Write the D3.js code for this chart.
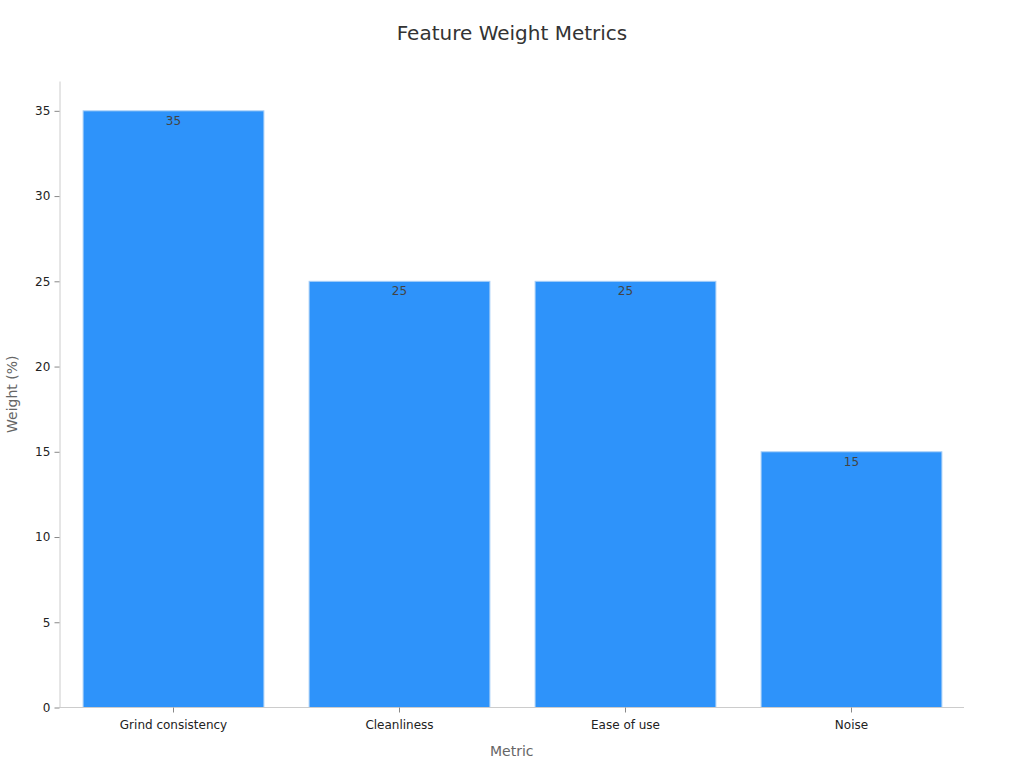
<!DOCTYPE html>
<html><head><meta charset="utf-8">
<script src="https://cdn.jsdelivr.net/npm/d3@7"></script>
<style>body{margin:0;background:#fff;font-family:"DejaVu Sans",sans-serif;}</style>
</head><body><svg id="c" width="1024" height="768"></svg>
<script>
const categories = ["Grind consistency","Cleanliness","Ease of use","Noise"];
const values = [35,25,25,15];
const yTicks = [0,5,10,15,20,25,30,35];

const svg = d3.select("#c");
const m = {l:59.5, r:60, t:81, b:60.5};
const W = 1024, H = 768;
const x = d3.scaleBand().domain(categories).range([m.l+1, W-m.r+0.5]).paddingInner(0.2).paddingOuter(0.1);
const y = d3.scaleLinear().domain([0, 36.75]).range([H-m.b, m.t]);

svg.append("text").attr("x",512).attr("y",40).attr("text-anchor","middle")
  .attr("font-size",20).attr("fill","#333").text("Feature Weight Metrics");

svg.selectAll("rect.bar").data(values).enter().append("rect")
  .attr("x",(d,i)=>x(categories[i])).attr("width",x.bandwidth())
  .attr("y",d=>y(d)).attr("height",d=>y(0)-y(d))
  .attr("fill","#2e93fa").attr("stroke","#a9cff7").attr("stroke-width",1);

svg.selectAll("text.lbl").data(values).enter().append("text")
  .attr("x",(d,i)=>x(categories[i])+x.bandwidth()/2).attr("y",d=>y(d)+14)
  .attr("text-anchor","middle").attr("font-size",12).attr("fill","#444").text(d=>d);

const xa = svg.append("g").attr("transform",`translate(0,${y(0)})`)
  .call(d3.axisBottom(x).tickSize(5).tickSizeOuter(0));
xa.select(".domain").attr("stroke","#ccc").attr("d",`M${m.l},0H${W-m.r}`);
xa.selectAll(".tick line").attr("stroke","#888");
xa.selectAll("text").attr("font-size",12).attr("fill","#222").attr("font-family","DejaVu Sans").attr("dy","1.1em");

const ya = svg.append("g").attr("transform",`translate(${m.l},0)`)
  .call(d3.axisLeft(y).tickValues(yTicks).tickSize(5).tickSizeOuter(0));
ya.select(".domain").attr("stroke","#ccc");
ya.selectAll(".tick line").attr("stroke","#888");
ya.selectAll("text").attr("font-size",12).attr("fill","#222").attr("font-family","DejaVu Sans").attr("dx","-0.1em");

svg.append("text").attr("x",(m.l+W-m.r)/2).attr("y",756).attr("text-anchor","middle")
  .attr("font-size",14).attr("fill","#666").text("Metric");
svg.append("text").attr("transform",`translate(17,${(m.t+y(0))/2}) rotate(-90)`).attr("text-anchor","middle")
  .attr("font-size",14).attr("fill","#666").text("Weight (%)");
</script></body></html>
